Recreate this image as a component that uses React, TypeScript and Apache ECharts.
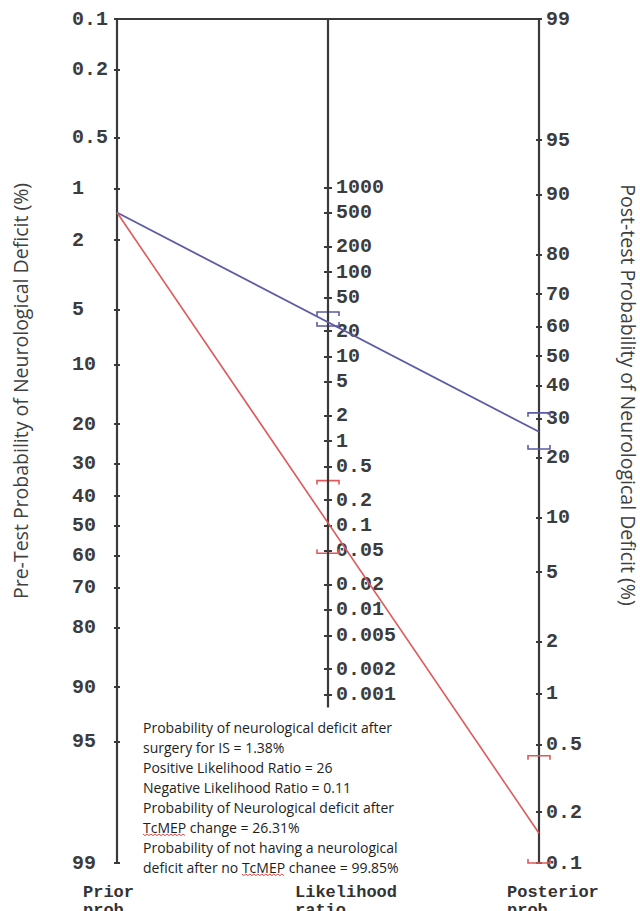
import React, { useEffect, useRef } from "react";
import * as echarts from "echarts";

// ---- data (percent / ratios) ----
const PRE_TEST = 1.38;
const POST_POSITIVE = 26.31;
const POST_NEGATIVE = 0.15;
const LR_POSITIVE_CI = [23.0, 33.6];
const LR_NEGATIVE_CI = [0.047, 0.34];
const POST_POSITIVE_CI = [22.0, 31.6];
const POST_NEGATIVE_CI = [0.1, 0.43];

const PRIOR_TICKS = [0.1, 0.2, 0.5, 1, 2, 5, 10, 20, 30, 40, 50, 60, 70, 80, 90, 95, 99];
const LR_TICKS = [1000, 500, 200, 100, 50, 20, 10, 5, 2, 1, 0.5, 0.2, 0.1, 0.05, 0.02, 0.01, 0.005, 0.002, 0.001];
const POST_TICKS = [99, 95, 90, 80, 70, 60, 50, 40, 30, 20, 10, 5, 2, 1, 0.5, 0.2, 0.1];
const LR_AXIS_END = 0.0007;
const PROB_RANGE = [0.1, 99];

const NOTE_LINES = [
  "Probability of neurological deficit after",
  "surgery for IS = 1.38%",
  "Positive Likelihood Ratio = 26",
  "Negative Likelihood Ratio = 0.11",
  "Probability of Neurological deficit after",
  "TcMEP change = 26.31%",
  "Probability of not having a neurological",
  "deficit after no TcMEP chanee = 99.85%",
];

const BLUE = "#5b5ba6";
const RED = "#e0585a";
const AXIS_COLOR = "#3a3a3a";
const COLORS = [BLUE, RED];

const logit = (pct: number) => {
  const p = pct / 100;
  return Math.log(p / (1 - p));
};
const LMIN = logit(PROB_RANGE[0]);
const LMAX = logit(PROB_RANGE[1]);
const SPAN = LMAX - LMIN;

const nearestLabel = (ticks: number[], tf: (v: number) => number) => (v: number) => {
  let best = ticks[0];
  let bd = Infinity;
  for (const t of ticks) {
    const d = Math.abs(tf(t) - v);
    if (d < bd) {
      bd = d;
      best = t;
    }
  }
  return String(best);
};

const LABEL_FONT = {
  fontFamily: "Liberation Mono",
  fontSize: 20,
  fontWeight: "bold" as const,
  color: "#3c3c3c",
};

const NOTE_FONT_SIZE = 14;
const NOTE_FONT = `${NOTE_FONT_SIZE}px "Open Sans"`;
const TITLE_FONT = '19.5px "Open Sans"';
const FOOT_FONT = 'bold 17px "Liberation Mono"';

function squiggle(x0: number, x1: number, y: number) {
  const pts: number[][] = [];
  let i = 0;
  for (let x = x0; x <= x1; x += 2) {
    pts.push([x, y + (i % 2 ? 1.6 : 0)]);
    i++;
  }
  return pts;
}

export default function App() {
  const ref = useRef<HTMLDivElement>(null);
  useEffect(() => {
    if (!ref.current) return;
    const chart = echarts.init(ref.current, undefined, { renderer: "svg" });

    const probVals = (ticks: number[]) => ticks.map(logit);
    const lrVals = LR_TICKS.map((t) => Math.log(t));

    const probAxis = (
      position: "left" | "right",
      inverse: boolean,
      ticks: number[],
      main: boolean
    ) => ({
      type: "value",
      position,
      inverse,
      min: LMIN,
      max: LMAX,
      splitLine: { show: false },
      axisLine: { show: main, lineStyle: { color: AXIS_COLOR, width: 2.2 } },
      axisTick: {
        show: true,
        inside: !main,
        length: 3,
        customValues: probVals(ticks),
        lineStyle: { color: AXIS_COLOR, width: 2 },
      },
      axisLabel: {
        show: main,
        customValues: probVals(ticks),
        formatter: nearestLabel(ticks, logit),
        margin: position === "left" ? 45 : 7,
        align: "left",
        ...LABEL_FONT,
      },
    });

    const lrAxis = (position: "left" | "right", main: boolean) => ({
      type: "value",
      position,
      offset: -211,
      min: -SPAN,
      max: SPAN,
      splitLine: { show: false },
      axisLine: { show: false },
      axisTick: {
        show: true,
        length: 4,
        customValues: lrVals,
        lineStyle: { color: AXIS_COLOR, width: 2 },
      },
      axisLabel: {
        show: main,
        customValues: lrVals,
        formatter: nearestLabel(LR_TICKS, Math.log),
        margin: 8,
        align: "left",
        ...LABEL_FONT,
      },
    });

    const bracket = (params: any, api: any) => {
      const x = api.value(0);
      const lo = api.coord([x, api.value(1)]);
      const hi = api.coord([x, api.value(2)]);
      const color = COLORS[api.value(3)];
      const w = 11;
      const t = 4;
      const style = { stroke: color, lineWidth: 1.6, fill: "none" };
      return {
        type: "group",
        children: [
          {
            type: "polyline",
            shape: { points: [[hi[0] - w, hi[1] + t], [hi[0] - w, hi[1]], [hi[0] + w, hi[1]], [hi[0] + w, hi[1] + t]] },
            style,
          },
          {
            type: "polyline",
            shape: { points: [[lo[0] - w, lo[1] - t], [lo[0] - w, lo[1]], [lo[0] + w, lo[1]], [lo[0] + w, lo[1] - t]] },
            style,
          },
        ],
      };
    };

    // text measurement for spell-check squiggles
    const ctx = document.createElement("canvas").getContext("2d")!;
    ctx.font = NOTE_FONT;
    const noteX = 143;
    const noteTop = 717;
    const lh = 20;
    const squigs: any[] = [];
    NOTE_LINES.forEach((line, i) => {
      const idx = line.indexOf("TcMEP");
      if (idx >= 0) {
        const x0 = noteX + ctx.measureText(line.slice(0, idx)).width;
        const x1 = x0 + ctx.measureText("TcMEP").width;
        squigs.push({
          type: "polyline",
          shape: { points: squiggle(x0, x1, noteTop + lh * i + lh / 2 + 7) },
          style: { stroke: "#e03030", lineWidth: 0.9, fill: "none" },
          silent: true,
        });
      }
    });

    const footer = (x: number, text: string) => ({
      type: "text",
      x,
      y: 883,
      style: {
        text,
        font: FOOT_FONT,
        lineHeight: 18,
        fill: "#333",
        verticalAlign: "top",
      },
    });

    chart.setOption({
      animation: false,
      backgroundColor: "#ffffff",
      grid: { left: 117, right: 101, top: 19, bottom: 48 },
      xAxis: { type: "value", min: 0, max: 1, show: false },
      yAxis: [
        probAxis("left", true, PRIOR_TICKS, true),
        probAxis("right", false, POST_TICKS, true),
        lrAxis("right", true),
        probAxis("left", true, PRIOR_TICKS, false),
        probAxis("right", false, POST_TICKS, false),
        lrAxis("left", false),
      ],
      series: [
        {
          type: "line",
          yAxisIndex: 0,
          data: [[0, LMIN], [1, LMIN]],
          symbol: "none",
          lineStyle: { color: AXIS_COLOR, width: 2.2 },
          silent: true,
        },
        {
          type: "line",
          yAxisIndex: 2,
          data: [[0.5, SPAN], [0.5, Math.log(LR_AXIS_END)]],
          symbol: "none",
          lineStyle: { color: AXIS_COLOR, width: 2.2 },
          silent: true,
        },
        {
          type: "line",
          yAxisIndex: 1,
          data: [[0, LMIN + LMAX - logit(PRE_TEST)], [1, logit(POST_POSITIVE)]],
          symbol: "none",
          lineStyle: { color: BLUE, width: 1.8 },
          silent: true,
        },
        {
          type: "line",
          yAxisIndex: 1,
          data: [[0, LMIN + LMAX - logit(PRE_TEST)], [1, logit(POST_NEGATIVE)]],
          symbol: "none",
          lineStyle: { color: RED, width: 1.6 },
          silent: true,
        },
        {
          type: "custom",
          yAxisIndex: 2,
          renderItem: bracket,
          data: [
            [0.5, Math.log(LR_POSITIVE_CI[0]), Math.log(LR_POSITIVE_CI[1]), 0],
            [0.5, Math.log(LR_NEGATIVE_CI[0]), Math.log(LR_NEGATIVE_CI[1]), 1],
          ],
          silent: true,
        },
        {
          type: "custom",
          yAxisIndex: 1,
          renderItem: bracket,
          data: [
            [1, logit(POST_POSITIVE_CI[0]), logit(POST_POSITIVE_CI[1]), 0],
            [1, logit(POST_NEGATIVE_CI[0]), logit(POST_NEGATIVE_CI[1]), 1],
          ],
          silent: true,
        },
      ],
      graphic: [
        {
          type: "text",
          x: 20,
          y: 391,
          rotation: Math.PI / 2,
          style: {
            text: "Pre-Test Probability of Neurological Deficit (%)",
            font: TITLE_FONT,
            fill: "#404040",
            align: "center",
            verticalAlign: "middle",
          },
        },
        {
          type: "text",
          x: 628,
          y: 395,
          rotation: -Math.PI / 2,
          style: {
            text: "Post-test Probability of Neurological Deficit (%)",
            font: TITLE_FONT,
            fill: "#404040",
            align: "center",
            verticalAlign: "middle",
          },
        },
        {
          type: "text",
          x: noteX,
          y: noteTop,
          style: {
            text: NOTE_LINES.join("\n"),
            font: NOTE_FONT,
            lineHeight: lh,
            fill: "#1e1e1e",
            align: "left",
            verticalAlign: "top",
          },
        },
        ...squigs,
        footer(83, "Prior\nprob."),
        footer(295, "Likelihood\nratio"),
        footer(507, "Posterior\nprob."),
      ],
    });
    return () => chart.dispose();
  }, []);

  return (
    <div
      ref={ref}
      style={{ position: "fixed", left: 0, top: 0, width: 640, height: 911, background: "#fff" }}
    />
  );
}
